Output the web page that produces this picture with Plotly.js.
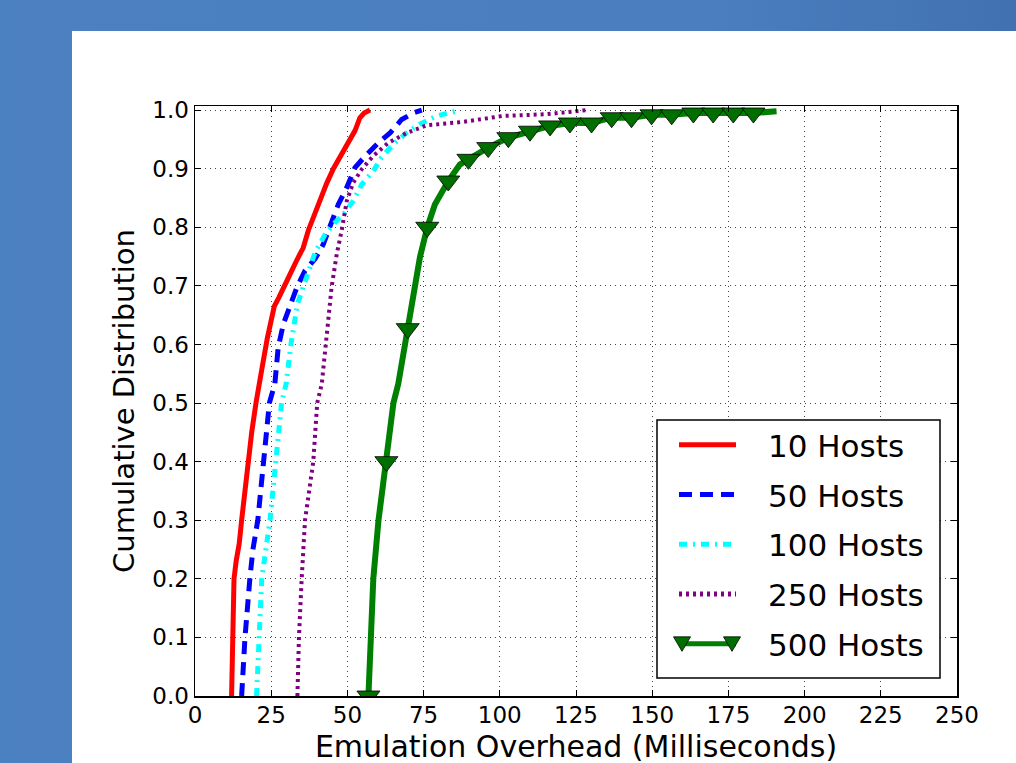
<!DOCTYPE html>
<html><head><meta charset="utf-8">
<script src="https://cdn.plot.ly/plotly-3.0.1.min.js"></script>
<style>
html,body{margin:0;padding:0;}
body{width:1016px;height:763px;overflow:hidden;position:relative;background:linear-gradient(to right,#4b80c1 0%,#4a7ebf 70%,#4271b1 100%);}
#panel{position:absolute;left:72px;top:31px;right:0;bottom:0;background:#ffffff;}
#chart{position:absolute;left:0;top:0;width:1016px;height:763px;}
</style></head>
<body><div id="panel"></div><div id="chart"></div>
<script>
// ---- data (CDF of emulation overhead, ms) ----
const seriesNames = ["10 Hosts", "50 Hosts", "100 Hosts", "250 Hosts", "500 Hosts"];

const hosts10X = [12.0, 12.3, 12.8, 13.5, 14.5, 15.3, 16.3, 17.4, 18.6, 20.0, 20.8, 22.0, 23.7, 24.8, 26.0, 27.5, 29.5, 31.2, 33.5, 35.5, 37.2, 39.0, 41.0, 43.2, 45.4, 47.0, 48.7, 50.0, 51.4, 52.5, 54.1, 55.5, 57.4];
const hosts10Y = [0.0, 0.1, 0.2, 0.23, 0.26, 0.3, 0.35, 0.4, 0.45, 0.5, 0.52, 0.56, 0.61, 0.64, 0.665, 0.68, 0.70, 0.72, 0.745, 0.765, 0.795, 0.82, 0.85, 0.875, 0.90, 0.915, 0.93, 0.94, 0.953, 0.965, 0.987, 0.995, 1.0];

const hosts50X = [15.3, 16.4, 18.0, 19.0, 20.6, 22.4, 24.4, 26.2, 27.3, 29.0, 31.2, 33.4, 36.1, 39.4, 42.1, 44.8, 47.0, 49.8, 52.5, 56.3, 60.1, 64.0, 67.8, 71.6, 74.4];
const hosts50Y = [0.0, 0.1, 0.2, 0.25, 0.3, 0.4, 0.5, 0.533, 0.595, 0.635, 0.669, 0.697, 0.726, 0.746, 0.771, 0.808, 0.839, 0.868, 0.902, 0.924, 0.944, 0.961, 0.984, 0.995, 1.0];

const hosts100X = [20.2, 21.0, 21.9, 24.6, 26.6, 28.4, 29.9, 31.5, 33.6, 36.6, 39.4, 42.7, 45.9, 48.7, 51.9, 54.7, 58.5, 61.2, 65.1, 69.4, 73.8, 79.3, 83.0, 87.0];
const hosts100Y = [0.0, 0.1, 0.2, 0.3, 0.4, 0.5, 0.533, 0.601, 0.669, 0.714, 0.757, 0.788, 0.808, 0.822, 0.845, 0.873, 0.896, 0.919, 0.942, 0.961, 0.976, 0.990, 0.995, 1.0];

const hosts250X = [33.6, 34.1, 35.0, 36.1, 38.8, 40.1, 41.6, 43.2, 44.8, 46.5, 48.1, 49.8, 51.9, 54.7, 58.5, 63.4, 69.4, 76.0, 88.0, 101.0, 115.4, 128.5];
const hosts250Y = [0.0, 0.1, 0.2, 0.3, 0.4, 0.5, 0.533, 0.623, 0.697, 0.754, 0.794, 0.845, 0.876, 0.899, 0.922, 0.944, 0.961, 0.974, 0.980, 0.990, 0.993, 1.0];

const hosts500X = [56.9, 57.6, 58.5, 60.2, 62.8, 65.1, 66.7, 69.8, 71.6, 73.8, 76.2, 78.7, 83.1, 86.9, 89.7, 96.2, 102.8, 109.9, 116.5, 123.0, 130.1, 136.7, 143.2, 149.8, 156.4, 163.5, 170.0, 176.6, 183.2, 190.8];
const hosts500Y = [0.0, 0.1, 0.2, 0.3, 0.4, 0.5, 0.533, 0.627, 0.68, 0.749, 0.8, 0.839, 0.879, 0.907, 0.916, 0.936, 0.953, 0.964, 0.973, 0.978, 0.978, 0.987, 0.987, 0.992, 0.992, 0.995, 0.995, 0.995, 0.995, 0.998];
// indices of the 500-host samples that carry a triangle marker
const hosts500MarkerIdx = [0, 4, 7, 10, 12, 14, 15, 16, 17, 18, 19, 20, 21, 22, 23, 24, 25, 26, 27, 28];

const xTickVals = [0, 25, 50, 75, 100, 125, 150, 175, 200, 225, 250];
const yTickVals = [0.0, 0.1, 0.2, 0.3, 0.4, 0.5, 0.6, 0.7, 0.8, 0.9, 1.0];

// ---- traces ----
const mkSizes = hosts500X.map((_, i) => hosts500MarkerIdx.includes(i) ? 20 : 0);

const traces = [
  {x: hosts10X, y: hosts10Y, name: seriesNames[0], legendgroup: "a", mode: "lines",
   line: {color: "#ff0000", width: 5}},
  {x: hosts50X, y: hosts50Y, name: seriesNames[1], legendgroup: "b", mode: "lines",
   line: {color: "#0000ff", width: 5, dash: "13px,8px"}},
  {x: hosts100X, y: hosts100Y, name: seriesNames[2], legendgroup: "c", mode: "lines",
   line: {color: "#00ffff", width: 5, dash: "8px,6px,2px,6px"}},
  {x: hosts250X, y: hosts250Y, name: seriesNames[3], legendgroup: "d", mode: "lines",
   line: {color: "#800080", width: 4, dash: "3px,4px"}},
  {x: hosts500X, y: hosts500Y, name: seriesNames[4], legendgroup: "e", mode: "lines+markers",
   line: {color: "#008000", width: 6},
   marker: {symbol: "triangle-down", size: mkSizes, color: "#006f00", opacity: 1,
            line: {color: "#000000", width: 0.8}}}
];

const px2paperX = p => (p - 195) / 762;
const px2paperY = p => (696 - p) / 590;

const layout = {
  width: 1016, height: 763,
  margin: {l: 195, r: 59, t: 106, b: 67, pad: 0},
  paper_bgcolor: "rgba(0,0,0,0)",
  plot_bgcolor: "#ffffff",
  showlegend: true,
  xaxis: {
    range: [0, 250], tickvals: xTickVals, ticktext: xTickVals.map(String),
    showline: true, linecolor: "#000", linewidth: 1.5, mirror: "ticks",
    ticks: "inside", ticklen: 6, tickwidth: 1, tickcolor: "#000",
    showgrid: true, gridcolor: "#444", gridwidth: 1, griddash: "1px,4px",
    zeroline: false, tickfont: {family: "DejaVu Sans", size: 23, color: "#000"},
    ticklabelstandoff: -2,
    title: {text: "Emulation Overhead (Milliseconds)", font: {family: "DejaVu Sans", size: 30, color: "#000"}, standoff: 10}
  },
  yaxis: {
    range: [0, 1.007], tickvals: yTickVals, ticktext: yTickVals.map(v => v.toFixed(1)),
    showline: true, linecolor: "#000", linewidth: 1.5, mirror: "ticks",
    ticks: "inside", ticklen: 6, tickwidth: 1, tickcolor: "#000",
    showgrid: true, gridcolor: "#444", gridwidth: 1, griddash: "1px,4px",
    zeroline: false, tickfont: {family: "DejaVu Sans", size: 23, color: "#000"},
    title: {text: "Cumulative Distribution", font: {family: "DejaVu Sans", size: 29, color: "#000"}, standoff: 9}
  },
  shapes: [{
    type: "rect", xref: "paper", yref: "paper", layer: "above",
    x0: px2paperX(657), x1: px2paperX(940), y0: px2paperY(678), y1: px2paperY(420),
    fillcolor: "#ffffff", line: {color: "#000", width: 1.5}
  }],
  legend: {
    x: px2paperX(701), xanchor: "left", y: px2paperY(418), yanchor: "top",
    bgcolor: "rgba(0,0,0,0)", borderwidth: 0,
    font: {family: "DejaVu Sans", size: 31, color: "#000"},
    itemwidth: 57, traceorder: "grouped", tracegroupgap: 6.5, itemsizing: "constant"
  }
};

function tweak(gd) {
  // nothing in the legend should be clipped once its symbols are shifted
  gd.querySelectorAll(".legend .scrollbox").forEach(s => {
    s.removeAttribute("clip-path"); s.style.clipPath = "none";
  });
  // wider gap between legend symbol and label, as in the reference
  gd.querySelectorAll(".legend .legendfill, .legend .legendlines, .legend .legendsymbols")
    .forEach(g => g.setAttribute("transform", "translate(-27,0)"));
  // the 500-host legend sample shows a triangle at each end of its line
  const items = gd.querySelectorAll(".legend .traces");
  const item = items[items.length - 1];
  if (item && !item.dataset.tri) {
    const txt = item.querySelector("text.legendtext");
    const tx = txt ? parseFloat(txt.getAttribute("x")) || 0 : 0;
    item.querySelectorAll(".legendsymbols path").forEach(p => p.style.display = "none");
    const ns = "http://www.w3.org/2000/svg";
    [tx - 86, tx - 36].forEach(x => {
      const t = document.createElementNS(ns, "path");
      t.setAttribute("d", "M-8.5,-7H8.5L0,7.5Z");
      t.setAttribute("transform", `translate(${x},0)`);
      t.setAttribute("style", "fill:#006f00;stroke:#000;stroke-width:0.8;opacity:1");
      item.appendChild(t);
    });
    item.dataset.tri = "1";
  }
  // x title sits low, just above the bottom edge
  const xt = gd.querySelector(".xtitle");
  if (xt && !xt.dataset.moved) {
    xt.setAttribute("y", String(parseFloat(xt.getAttribute("y")) + 1));
    xt.dataset.moved = "1";
  }
}
Plotly.newPlot("chart", traces, layout, {displayModeBar: false, staticPlot: true}).then(gd => {
  tweak(gd);
  setTimeout(() => tweak(gd), 50);
});
</script></body></html>
